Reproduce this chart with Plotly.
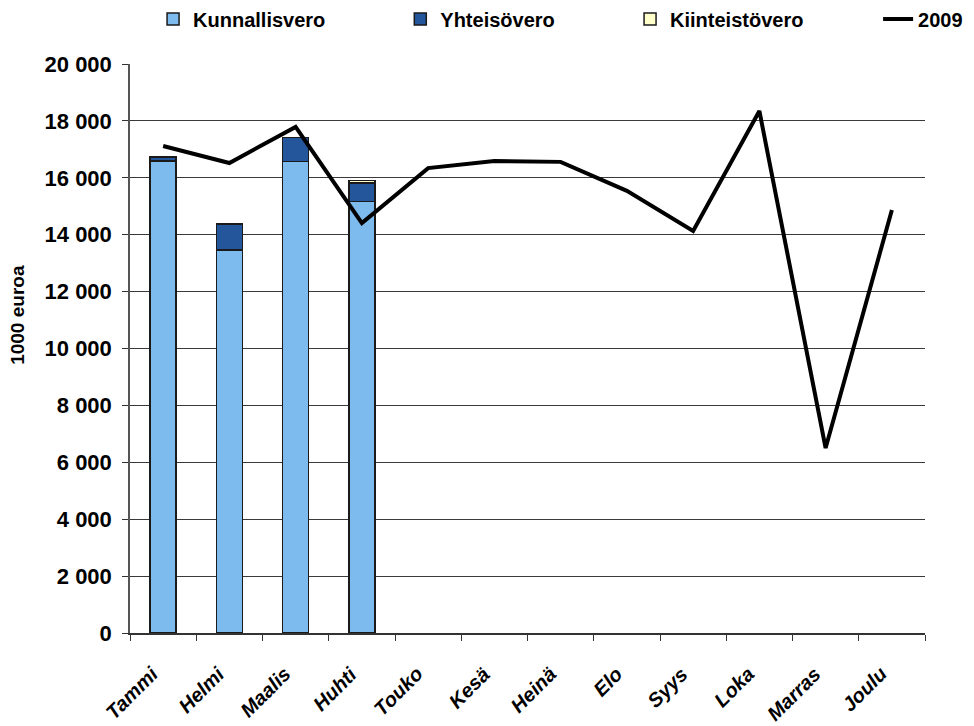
import plotly.graph_objects as go

months = ["Tammi", "Helmi", "Maalis", "Huhti", "Touko", "Kesä", "Heinä", "Elo", "Syys", "Loka", "Marras", "Joulu"]
kunnallisvero = [16590, 13460, 16580, 15160]
yhteisovero = [150, 910, 840, 650]
kiinteistovero = [0, 0, 0, 90]
line_2009 = [17120, 16520, 17790, 14410, 16340, 16590, 16560, 15540, 14130, 18350, 6500, 14870]

font_family = "Liberation Sans, Arial, sans-serif"
bar_months = months[:4]
outline = dict(color="#1a1a1a", width=1.5)

fig = go.Figure()
fig.add_trace(go.Bar(x=bar_months, y=kunnallisvero, name="Kunnallisvero",
                     marker=dict(color="#7DBBEE", line=outline), width=0.39, legend="legend"))
fig.add_trace(go.Bar(x=bar_months, y=yhteisovero, name="Yhteisövero",
                     marker=dict(color="#24569B", line=outline), width=0.39, legend="legend2"))
fig.add_trace(go.Bar(x=bar_months, y=kiinteistovero, name="Kiinteistövero",
                     marker=dict(color="#FFFFCC", line=outline), width=0.39, legend="legend3"))
fig.add_trace(go.Scatter(x=months, y=line_2009, name="2009", mode="lines",
                         line=dict(color="black", width=4), legend="legend4"))

legend_common = dict(orientation="h", yanchor="middle", y=1.079, xanchor="left",
                     font=dict(family=font_family, size=20, color="black", weight="bold"),
                     bgcolor="rgba(0,0,0,0)", itemwidth=30, tracegroupgap=0)

# month labels as rotated text under the axis
label_font = dict(family=font_family, size=20, color="black", weight="bold", style="italic")
annotations = [
    dict(x=m, xref="x", y=0, yref="paper", text=m, showarrow=False, textangle=-45,
         xanchor="right", yanchor="top", xshift=2, yshift=-27, font=label_font)
    for m in months
]
annotations.append(dict(
    x=-0.141, xref="paper", y=0.559, yref="paper", text="1000 euroa", showarrow=False,
    textangle=-90, xanchor="center", yanchor="middle",
    font=dict(family=font_family, size=19, color="black", weight="bold")))

fig.update_layout(
    barmode="stack",
    width=966, height=718,
    margin=dict(l=122, r=49, t=56, b=93, autoexpand=False),
    plot_bgcolor="white", paper_bgcolor="white",
    separators=", ",
    font=dict(family=font_family, color="black"),
    showlegend=True,
    legend=dict(x=0.029, **legend_common),
    legend2=dict(x=0.340, **legend_common),
    legend3=dict(x=0.629, **legend_common),
    legend4=dict(x=0.941, **legend_common),
    annotations=annotations,
    xaxis=dict(
        type="category", categoryorder="array", categoryarray=months,
        range=[-0.5, 11.5],
        tickson="boundaries", ticks="outside", ticklen=6, tickcolor="#333",
        showline=True, linecolor="#333", linewidth=1.5,
        showticklabels=False,
        showgrid=False,
    ),
    yaxis=dict(
        range=[0, 20000], tickvals=list(range(0, 20001, 2000)),
        tickformat=",.0f",
        ticks="outside", ticklen=6, tickcolor="#333",
        ticklabelstandoff=6,
        showline=True, linecolor="#555", linewidth=1.5,
        showgrid=True, gridcolor="#3a3a3a", gridwidth=1,
        tickfont=dict(family=font_family, size=22, color="black", weight="bold"),
        zeroline=False,
    ),
)

fig.write_html("out.html")
